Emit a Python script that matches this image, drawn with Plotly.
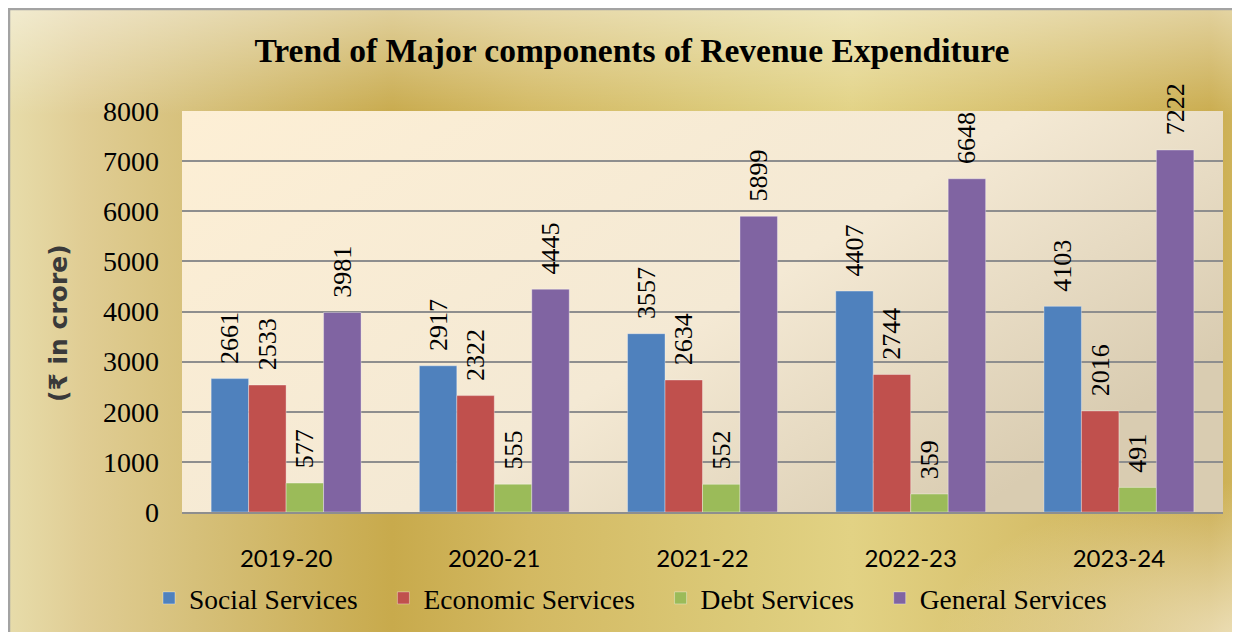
import base64
import plotly.graph_objects as go

years = ["2019-20", "2020-21", "2021-22", "2022-23", "2023-24"]
social = [2661, 2917, 3557, 4407, 4103]
economic = [2533, 2322, 2634, 2744, 2016]
debt = [577, 555, 552, 359, 491]
general = [3981, 4445, 5899, 6648, 7222]

series_names = ["Social Services", "Economic Services", "Debt Services", "General Services"]
series_values = [social, economic, debt, general]
series_colors = ["#4f81bd", "#c0504d", "#9bbb59", "#8064a2"]

W, H = 1240, 632
L, T = 174, 103
PW, PH = 1041, 401
R, B = W - L - PW, H - T - PH

svg = f'''<svg xmlns="http://www.w3.org/2000/svg" width="{W}" height="{H}" viewBox="0 0 {W} {H}" preserveAspectRatio="none">
<defs>
<linearGradient id="g" x1="0" y1="0" x2="1" y2="0">
<stop offset="0" stop-color="#e7dcaa"/>
<stop offset="0.06" stop-color="#e0cd94"/>
<stop offset="0.15" stop-color="#d6c07a"/>
<stop offset="0.31" stop-color="#c8aa4c"/>
<stop offset="0.42" stop-color="#d3b962"/>
<stop offset="0.6" stop-color="#dccb7a"/>
<stop offset="0.68" stop-color="#e2d284"/>
<stop offset="0.82" stop-color="#d7c06c"/>
<stop offset="0.97" stop-color="#caac4e"/>
<stop offset="1" stop-color="#d2b862"/>
</linearGradient>
<linearGradient id="v" x1="0" y1="0" x2="0" y2="1">
<stop offset="0" stop-color="#ffffff" stop-opacity="0.45"/>
<stop offset="0.17" stop-color="#ffffff" stop-opacity="0"/>
<stop offset="1" stop-color="#ffffff" stop-opacity="0"/>
</linearGradient>
<radialGradient id="br" cx="1" cy="1" r="0.25">
<stop offset="0" stop-color="#f4ead0" stop-opacity="0.8"/>
<stop offset="1" stop-color="#f4ead0" stop-opacity="0"/>
</radialGradient>
<linearGradient id="p" x1="0" y1="0" x2="1" y2="0.6">
<stop offset="0" stop-color="#fdefd5"/>
<stop offset="0.6" stop-color="#f4e9d4"/>
<stop offset="1" stop-color="#d9ccb1"/>
</linearGradient>
</defs>
<rect x="0" y="0" width="{W}" height="{H}" fill="url(#g)"/>
<rect x="0" y="0" width="{W}" height="{H}" fill="url(#v)"/>
<rect x="0" y="0" width="{W}" height="{H}" fill="url(#br)"/>
<rect x="1" y="1" width="{W + 10}" height="{H + 10}" fill="none" stroke="#a3a3a3" stroke-width="2.5"/>
<rect x="{L}" y="{T}" width="{PW}" height="{PH}" fill="url(#p)"/>
</svg>'''
src = "data:image/svg+xml;base64," + base64.b64encode(svg.encode()).decode()

fig = go.Figure()
for name, vals, col in zip(series_names, series_values, series_colors):
    fig.add_trace(go.Bar(
        x=years, y=vals, name=name + "\u00a0\u00a0\u00a0",
        marker=dict(color=col, line=dict(color="rgba(255,255,255,0.35)", width=1)),
        text=["\u00a0\u2009" + str(v) for v in vals],
        textposition="outside", textangle=-90, constraintext="none",
        cliponaxis=False,
        textfont=dict(family="Liberation Serif", size=26, color="#000000"),
        hoverinfo="skip",
    ))

fig.update_layout(
    width=W, height=H,
    margin=dict(l=L, r=R, t=T, b=B, pad=0),
    paper_bgcolor="rgba(0,0,0,0)",
    plot_bgcolor="rgba(0,0,0,0)",
    barmode="group", bargap=0.28, bargroupgap=0,
    title=dict(text="<b>Trend of Major components of Revenue Expenditure</b>",
               x=624 / W, xanchor="center", y=1 - 42 / H, yanchor="middle",
               font=dict(family="Liberation Serif", size=33.5, color="#000000")),
    showlegend=True,
    legend=dict(orientation="h", x=(141 - L) / PW, xanchor="left",
                y=(T + PH - 590) / PH, yanchor="middle",
                font=dict(family="Liberation Serif", size=27.5, color="#000000"),
                bgcolor="rgba(0,0,0,0)", traceorder="normal"),
    images=[dict(source=src, xref="paper", yref="paper",
                 x=-L / PW, y=1 + T / PH, sizex=W / PW, sizey=H / PH,
                 xanchor="left", yanchor="top", sizing="stretch", layer="below")],
    annotations=[dict(text="<b>(\u20b9 in crore)</b>", textangle=-90, showarrow=False,
                      xref="paper", yref="paper",
                      x=(50 - L) / PW, y=(T + PH - 315) / PH,
                      xanchor="center", yanchor="middle",
                      font=dict(family="DejaVu Sans", size=25, color="#3a3a3a"))],
)
fig.update_yaxes(range=[0, 8000], dtick=1000, showgrid=True, gridcolor="#8e8e8e", gridwidth=2,
                 zeroline=False, showline=False, ticks="",
                 tickfont=dict(family="Liberation Serif", size=28, color="#000000"),
                 ticklabelstandoff=22)
fig.update_xaxes(showline=True, linecolor="#8e8e8e", linewidth=2, ticks="",
                 tickfont=dict(family="Lato", size=24, color="#000000"),
                 ticklabelstandoff=24)

fig.write_html("out.html")
